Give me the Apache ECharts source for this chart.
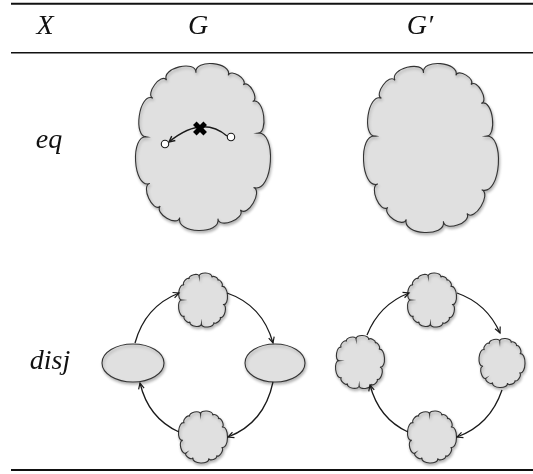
<!DOCTYPE html>
<html><head><meta charset="utf-8">
<script src="https://cdn.jsdelivr.net/npm/echarts@6/dist/echarts.min.js"></script>
<style>html,body{margin:0;padding:0;background:#fff}#c{width:533px;height:474px}</style>
</head><body><div id="c"></div>
<script>
// ---- diagram data (in a 533 x 474 data space) ----
const headerLabels = ['X', 'G', 'G\u2032'];
const headerX = [45, 198, 420];
const headerY = 27;
const rowLabels = ['eq', 'disj'];
const rowLabelX = [49, 50];
const rowLabelY = [141, 362];
const ruleLines = [[11, 533, 3.7, 2], [11, 533, 52.7, 1.4], [11, 533, 470, 2]];
// clouds: [cx, cy, width, height, shapeVariant]
const clouds = [
  [203, 147, 135, 167, 0],
  [431, 148, 135, 169, 1],
  [203, 300, 49, 54, 2],
  [203, 437, 49, 52, 3],
  [432, 300, 49, 54, 2],
  [502, 363, 46, 49, 3],
  [360, 362, 49, 53, 4],
  [432, 437, 49, 52, 3]
];
// ellipses: [cx, cy, width, height]
const ellipses = [[133, 363, 62, 38], [275, 363, 60, 38]];
// port circles inside the eq cloud
const ports = [[165, 144], [231, 137]];
// eq edge: [x1, y1, ctrlX, ctrlY, x2, y2]
const eqEdges = [[227, 136, 202, 115, 169, 142]];
const crossMarks = [[200, 128.5]];
// ring edges: [x1, y1, x2, y2, ring]
const ringCenters = [[205, 364], [434, 364]];
const ringEdges = [
  [135, 343, 179, 293, 0], [227, 293, 273, 343, 0], [273, 382, 228, 437, 0], [179, 432, 140, 383, 0],
  [367, 335, 409, 293, 1], [457, 293, 500, 333, 1], [502, 390, 457, 437, 1], [408, 432, 370, 385, 1]
];
// bump weight patterns for each cloud variant (clockwise from the upper left)
const cloudBumps = [
  [1.1, 0.8, 0.8, 0.8, 0.9, 1.1, 1.1, 1.0, 0.9, 1.0, 1.0, 0.9, 1.1, 1.0],
  [1.1, 0.8, 0.8, 0.9, 0.9, 1.1, 1.2, 1.0, 0.9, 1.0, 1.0, 0.9, 1.1, 1.0],
  [0.9, 0.7, 0.7, 0.8, 1.0, 1.1, 0.9, 0.8, 0.9, 0.9, 1.1, 1.0, 0.9],
  [0.9, 0.7, 0.7, 0.9, 1.1, 1.0, 0.8, 0.9, 0.9, 1.1, 1.0, 0.9],
  [0.9, 0.7, 0.8, 0.8, 1.0, 1.1, 0.9, 0.8, 0.9, 1.0, 1.1, 1.0, 0.9]
];

const INK = '#1a1a1a';
const FILL = '#e0e0e0';
const MATH_FONT = 'italic 28px "Liberation Serif", "DejaVu Serif", serif';

function bez(p, a, b, q, t) {
  const u = 1 - t;
  return [u*u*u*p[0] + 3*u*u*t*a[0] + 3*u*t*t*b[0] + t*t*t*q[0],
          u*u*u*p[1] + 3*u*u*t*a[1] + 3*u*t*t*b[1] + t*t*t*q[1]];
}

function cloudPath(cx, cy, w, h, weights) {
  const n = weights.length;
  const tot = weights.reduce((a, b) => a + b, 0);
  const depth = 0.40;
  const m = 3;                       // superellipse exponent (rounded rectangle)
  const start = -Math.PI / 2 - 0.55;
  let acc = 0;
  const pts = [];
  for (let i = 0; i < n; i++) {
    const a = start + acc / tot * 2 * Math.PI;
    acc += weights[i];
    const c = Math.cos(a), s = Math.sin(a);
    pts.push([w / 2 * Math.sign(c) * Math.pow(Math.abs(c), 2 / m),
              h / 2 * Math.sign(s) * Math.pow(Math.abs(s), 2 / m)]);
  }
  const segs = [];
  for (let i = 0; i < n; i++) {
    const p = pts[i], q = pts[(i + 1) % n];
    const dx = q[0] - p[0], dy = q[1] - p[1];
    const chord = Math.hypot(dx, dy);
    const nx = dy / chord, ny = -dx / chord;   // outward normal (clockwise on screen)
    const k = chord * depth;
    const e = 0.1;
    segs.push([p, [p[0] + nx * k - dx * e, p[1] + ny * k - dy * e],
                  [q[0] + nx * k + dx * e, q[1] + ny * k + dy * e], q]);
  }
  // fit the outline into the requested box
  let x0 = 1e9, x1 = -1e9, y0 = 1e9, y1 = -1e9;
  segs.forEach(sg => { for (let t = 0; t <= 1.0001; t += 0.05) {
    const b = bez(sg[0], sg[1], sg[2], sg[3], t);
    x0 = Math.min(x0, b[0]); x1 = Math.max(x1, b[0]); y0 = Math.min(y0, b[1]); y1 = Math.max(y1, b[1]);
  } });
  const sx = w / (x1 - x0), sy = h / (y1 - y0);
  const bx = (x0 + x1) / 2, by = (y0 + y1) / 2;
  const T = p => (cx + (p[0] - bx) * sx).toFixed(2) + ' ' + (cy + (p[1] - by) * sy).toFixed(2);
  let d = 'M' + T(segs[0][0]);
  segs.forEach(sg => { d += ' C' + T(sg[1]) + ' ' + T(sg[2]) + ' ' + T(sg[3]); });
  return d + ' Z';
}

function arrowHead(tip, from, len, lw) {
  const dx = tip[0] - from[0], dy = tip[1] - from[1];
  const l = Math.hypot(dx, dy) || 1;
  const ux = dx / l, uy = dy / l;
  const ang = 0.45;
  const c = Math.cos(ang), s = Math.sin(ang);
  const a1 = [tip[0] - len * (ux * c - uy * s), tip[1] - len * (uy * c + ux * s)];
  const a2 = [tip[0] - len * (ux * c + uy * s), tip[1] - len * (uy * c - ux * s)];
  return {
    type: 'polyline', shape: { points: [a1, tip, a2] },
    style: { stroke: INK, lineWidth: lw, fill: null }
  };
}

const chart = echarts.init(document.getElementById('c'), null, { renderer: 'canvas' });
const pt = (api, i, j) => api.coord([api.value(i), api.value(j)]);
const shapeStyle = {
  fill: FILL, stroke: '#333', lineWidth: 1.1,
  shadowBlur: 3, shadowOffsetX: 1, shadowOffsetY: 2, shadowColor: 'rgba(0,0,0,0.28)'
};

chart.setOption({
  animation: false,
  backgroundColor: '#fff',
  grid: { left: 0, right: 0, top: 0, bottom: 0 },
  xAxis: { type: 'value', min: 0, max: 533, show: false },
  yAxis: { type: 'value', min: 0, max: 474, inverse: true, show: false },
  series: [
    { // table rules
      type: 'custom', data: ruleLines,
      renderItem(params, api) {
        const a = api.coord([api.value(0), api.value(2)]);
        const b = api.coord([api.value(1), api.value(2)]);
        return { type: 'line', shape: { x1: a[0], y1: a[1], x2: b[0], y2: b[1] },
          style: { stroke: '#111', lineWidth: api.value(3) } };
      }
    },
    { // header labels
      type: 'custom', data: headerLabels.map((t, i) => [headerX[i], headerY]),
      renderItem(params, api) {
        const p = pt(api, 0, 1);
        return { type: 'text', x: p[0], y: p[1],
          style: { text: headerLabels[params.dataIndex], font: MATH_FONT, fill: '#111', align: 'center', verticalAlign: 'middle' } };
      }
    },
    { // row labels
      type: 'custom', data: rowLabels.map((t, i) => [rowLabelX[i], rowLabelY[i]]),
      renderItem(params, api) {
        const p = pt(api, 0, 1);
        return { type: 'text', x: p[0], y: p[1],
          style: { text: rowLabels[params.dataIndex], font: MATH_FONT, fill: '#111', align: 'center', verticalAlign: 'middle' } };
      }
    },
    { // clouds
      type: 'custom', data: clouds,
      renderItem(params, api) {
        const c = pt(api, 0, 1);
        const s = api.size([api.value(2), api.value(3)]);
        const d = cloudPath(c[0], c[1], Math.abs(s[0]), Math.abs(s[1]), cloudBumps[api.value(4)]);
        return { type: 'path', shape: { pathData: d }, style: shapeStyle };
      }
    },
    { // ellipses
      type: 'custom', data: ellipses,
      renderItem(params, api) {
        const c = pt(api, 0, 1);
        const s = api.size([api.value(2), api.value(3)]);
        return { type: 'ellipse', shape: { cx: c[0], cy: c[1], rx: Math.abs(s[0]) / 2, ry: Math.abs(s[1]) / 2 },
          style: shapeStyle };
      }
    },
    { // ring edges
      type: 'custom', data: ringEdges,
      renderItem(params, api) {
        const p1 = pt(api, 0, 1), p2 = pt(api, 2, 3);
        const o = api.coord(ringCenters[api.value(4)]);
        const m = [(p1[0] + p2[0]) / 2, (p1[1] + p2[1]) / 2];
        const R = (Math.hypot(p1[0] - o[0], p1[1] - o[1]) + Math.hypot(p2[0] - o[0], p2[1] - o[1])) / 2;
        const dm = Math.hypot(m[0] - o[0], m[1] - o[1]);
        const f = R * R / (dm * dm);
        const ctl = [o[0] + (m[0] - o[0]) * f, o[1] + (m[1] - o[1]) * f];
        return { type: 'group', children: [
          { type: 'bezierCurve', shape: { x1: p1[0], y1: p1[1], cpx1: ctl[0], cpy1: ctl[1], x2: p2[0], y2: p2[1] },
            style: { stroke: INK, lineWidth: 1.3, fill: null } },
          arrowHead(p2, ctl, 6.5, 1.2)
        ] };
      }
    },
    { // eq edge
      type: 'custom', data: eqEdges,
      renderItem(params, api) {
        const p1 = pt(api, 0, 1), c = pt(api, 2, 3), p2 = pt(api, 4, 5);
        return { type: 'group', children: [
          { type: 'bezierCurve', shape: { x1: p1[0], y1: p1[1], cpx1: c[0], cpy1: c[1], x2: p2[0], y2: p2[1] },
            style: { stroke: INK, lineWidth: 1.5, fill: null } },
          arrowHead(p2, c, 6.5, 1.4)
        ] };
      }
    },
    { // ports
      type: 'custom', data: ports,
      renderItem(params, api) {
        const c = pt(api, 0, 1);
        return { type: 'circle', shape: { cx: c[0], cy: c[1], r: 3.7 },
          style: { fill: '#fff', stroke: INK, lineWidth: 1.1 } };
      }
    },
    { // cross marks
      type: 'custom', data: crossMarks,
      renderItem(params, api) {
        const c = pt(api, 0, 1);
        const h = 5.2;
        const st = { stroke: '#000', lineWidth: 5, lineCap: 'butt' };
        return { type: 'group', children: [
          { type: 'line', shape: { x1: c[0] - h, y1: c[1] - h, x2: c[0] + h, y2: c[1] + h }, style: st },
          { type: 'line', shape: { x1: c[0] - h, y1: c[1] + h, x2: c[0] + h, y2: c[1] - h }, style: st }
        ] };
      }
    }
  ]
});
</script>
</body></html>
